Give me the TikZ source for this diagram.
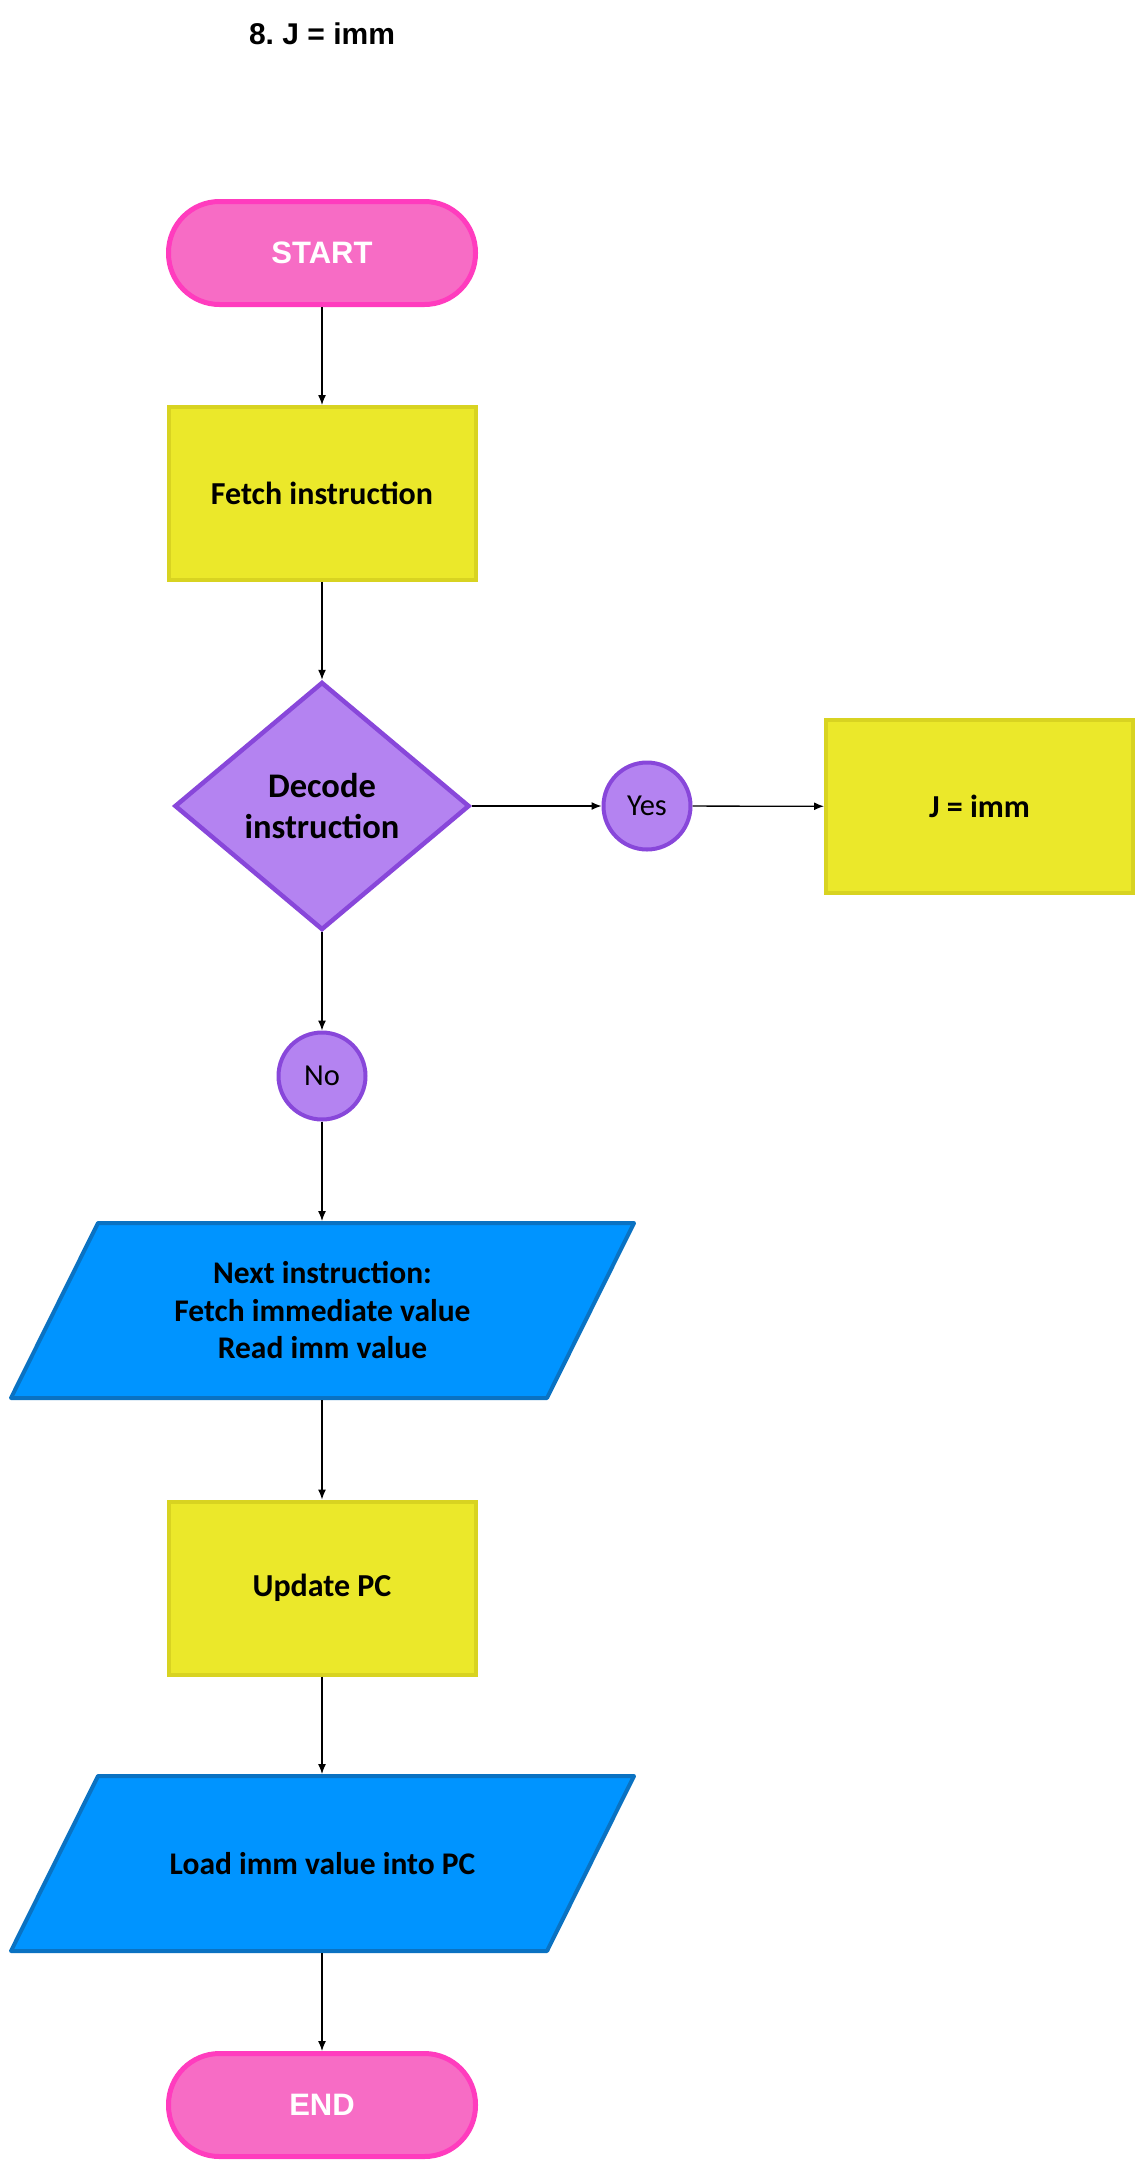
\documentclass[tikz,border=0pt]{standalone}
\usepackage{fontspec}
\setmainfont{Carlito}
\newfontfamily\arialfont{Liberation Sans}
\usepackage{xcolor}
\usetikzlibrary{arrows.meta,positioning,calc,shapes.geometric,backgrounds}
\definecolor{pinkfill}{HTML}{F76CC5}
\definecolor{pinkline}{HTML}{FF3CBE}
\definecolor{yelfill}{HTML}{EBE82A}
\definecolor{yelline}{HTML}{D8D321}
\definecolor{purfill}{HTML}{B483F1}
\definecolor{purline}{HTML}{8847DA}
\definecolor{bluefill}{HTML}{0094FF}
\definecolor{blueline}{HTML}{0A72C2}
\frenchspacing

\begin{document}
\begin{tikzpicture}[x=1pt,y=-1pt,>={Latex[length=10pt,width=8pt]},
  term/.style={rectangle,rounded corners=51pt,draw=pinkline,fill=pinkfill,line width=5pt,minimum width=307pt,minimum height=103pt,inner sep=0pt,text=white,font=\arialfont\bfseries\fontsize{31}{36}\selectfont},
  proc/.style={rectangle,draw=yelline,fill=yelfill,line width=4pt,minimum width=307pt,minimum height=173pt,inner sep=0pt,font=\bfseries\fontsize{32}{38}\selectfont},
  dec/.style={diamond,draw=purline,fill=purfill,line width=4.5pt,minimum width=295pt,minimum height=248pt,inner sep=0pt,align=center,font=\bfseries\fontsize{34.5}{41.5}\selectfont},
  io/.style={rectangle,minimum width=536pt,minimum height=175pt,inner sep=0pt,outer sep=2pt,align=center,font=\bfseries\fontsize{31.5}{37.5}\selectfont},
  ioshape/.style={draw=blueline,fill=bluefill,line width=4pt,line join=round},
  ans/.style={circle,draw=purline,fill=purfill,line width=4pt,minimum size=87pt,inner sep=0pt,font=\fontsize{30.5}{36}\selectfont},
  link/.style={->,line width=1.3pt}]
\useasboundingbox (0,0) rectangle (1144,2168);
\node[font=\arialfont\bfseries\fontsize{30}{36}\selectfont] (title) at (322,34) {8. J = imm};
\node[term] (start) at (322,253) {START};
\node[proc] (fetch) at (322,493.5) {Fetch instruction};
\node[dec] (decode) at (322,806) {Decode\\instruction};
\node[ans] (yes) at (647,806) {Yes};
\node[proc] (jimm) at (979.5,806.5) {J = imm};
\node[ans] (no) at (322,1076) {No};
\node[io] (next) at (322.5,1310.5) {Next instruction:\\Fetch immediate value\\Read imm value};
\node[proc] (upd) at (322,1588) {Update PC};
\node[io] (load) at (322.5,1863.5) {Load imm value into PC};
\node[term] (fin) at (322,2105) {END};
\begin{scope}[on background layer]
\draw[ioshape] ($(next.north west)+(45.5,2)$) -- ($(next.north east)+(41.5,2)$) -- ($(next.south east)+(-45.5,-2)$) -- ($(next.south west)+(-41.5,-2)$) -- cycle;
\draw[ioshape] ($(load.north west)+(45.5,2)$) -- ($(load.north east)+(41.5,2)$) -- ($(load.south east)+(-45.5,-2)$) -- ($(load.south west)+(-41.5,-2)$) -- cycle;
\end{scope}
\draw[link] (start) -- (fetch);
\draw[link] (fetch) -- (decode);
\draw[link] (decode) -- (yes);
\draw[link] (yes) -- (jimm);
\draw[link] (decode) -- (no);
\draw[link] (no) -- (no |- next.north);
\draw[link] (upd |- next.south) -- (upd);
\draw[link] (upd) -- (upd |- load.north);
\draw[link] (fin |- load.south) -- (fin);
\end{tikzpicture}
\end{document}
